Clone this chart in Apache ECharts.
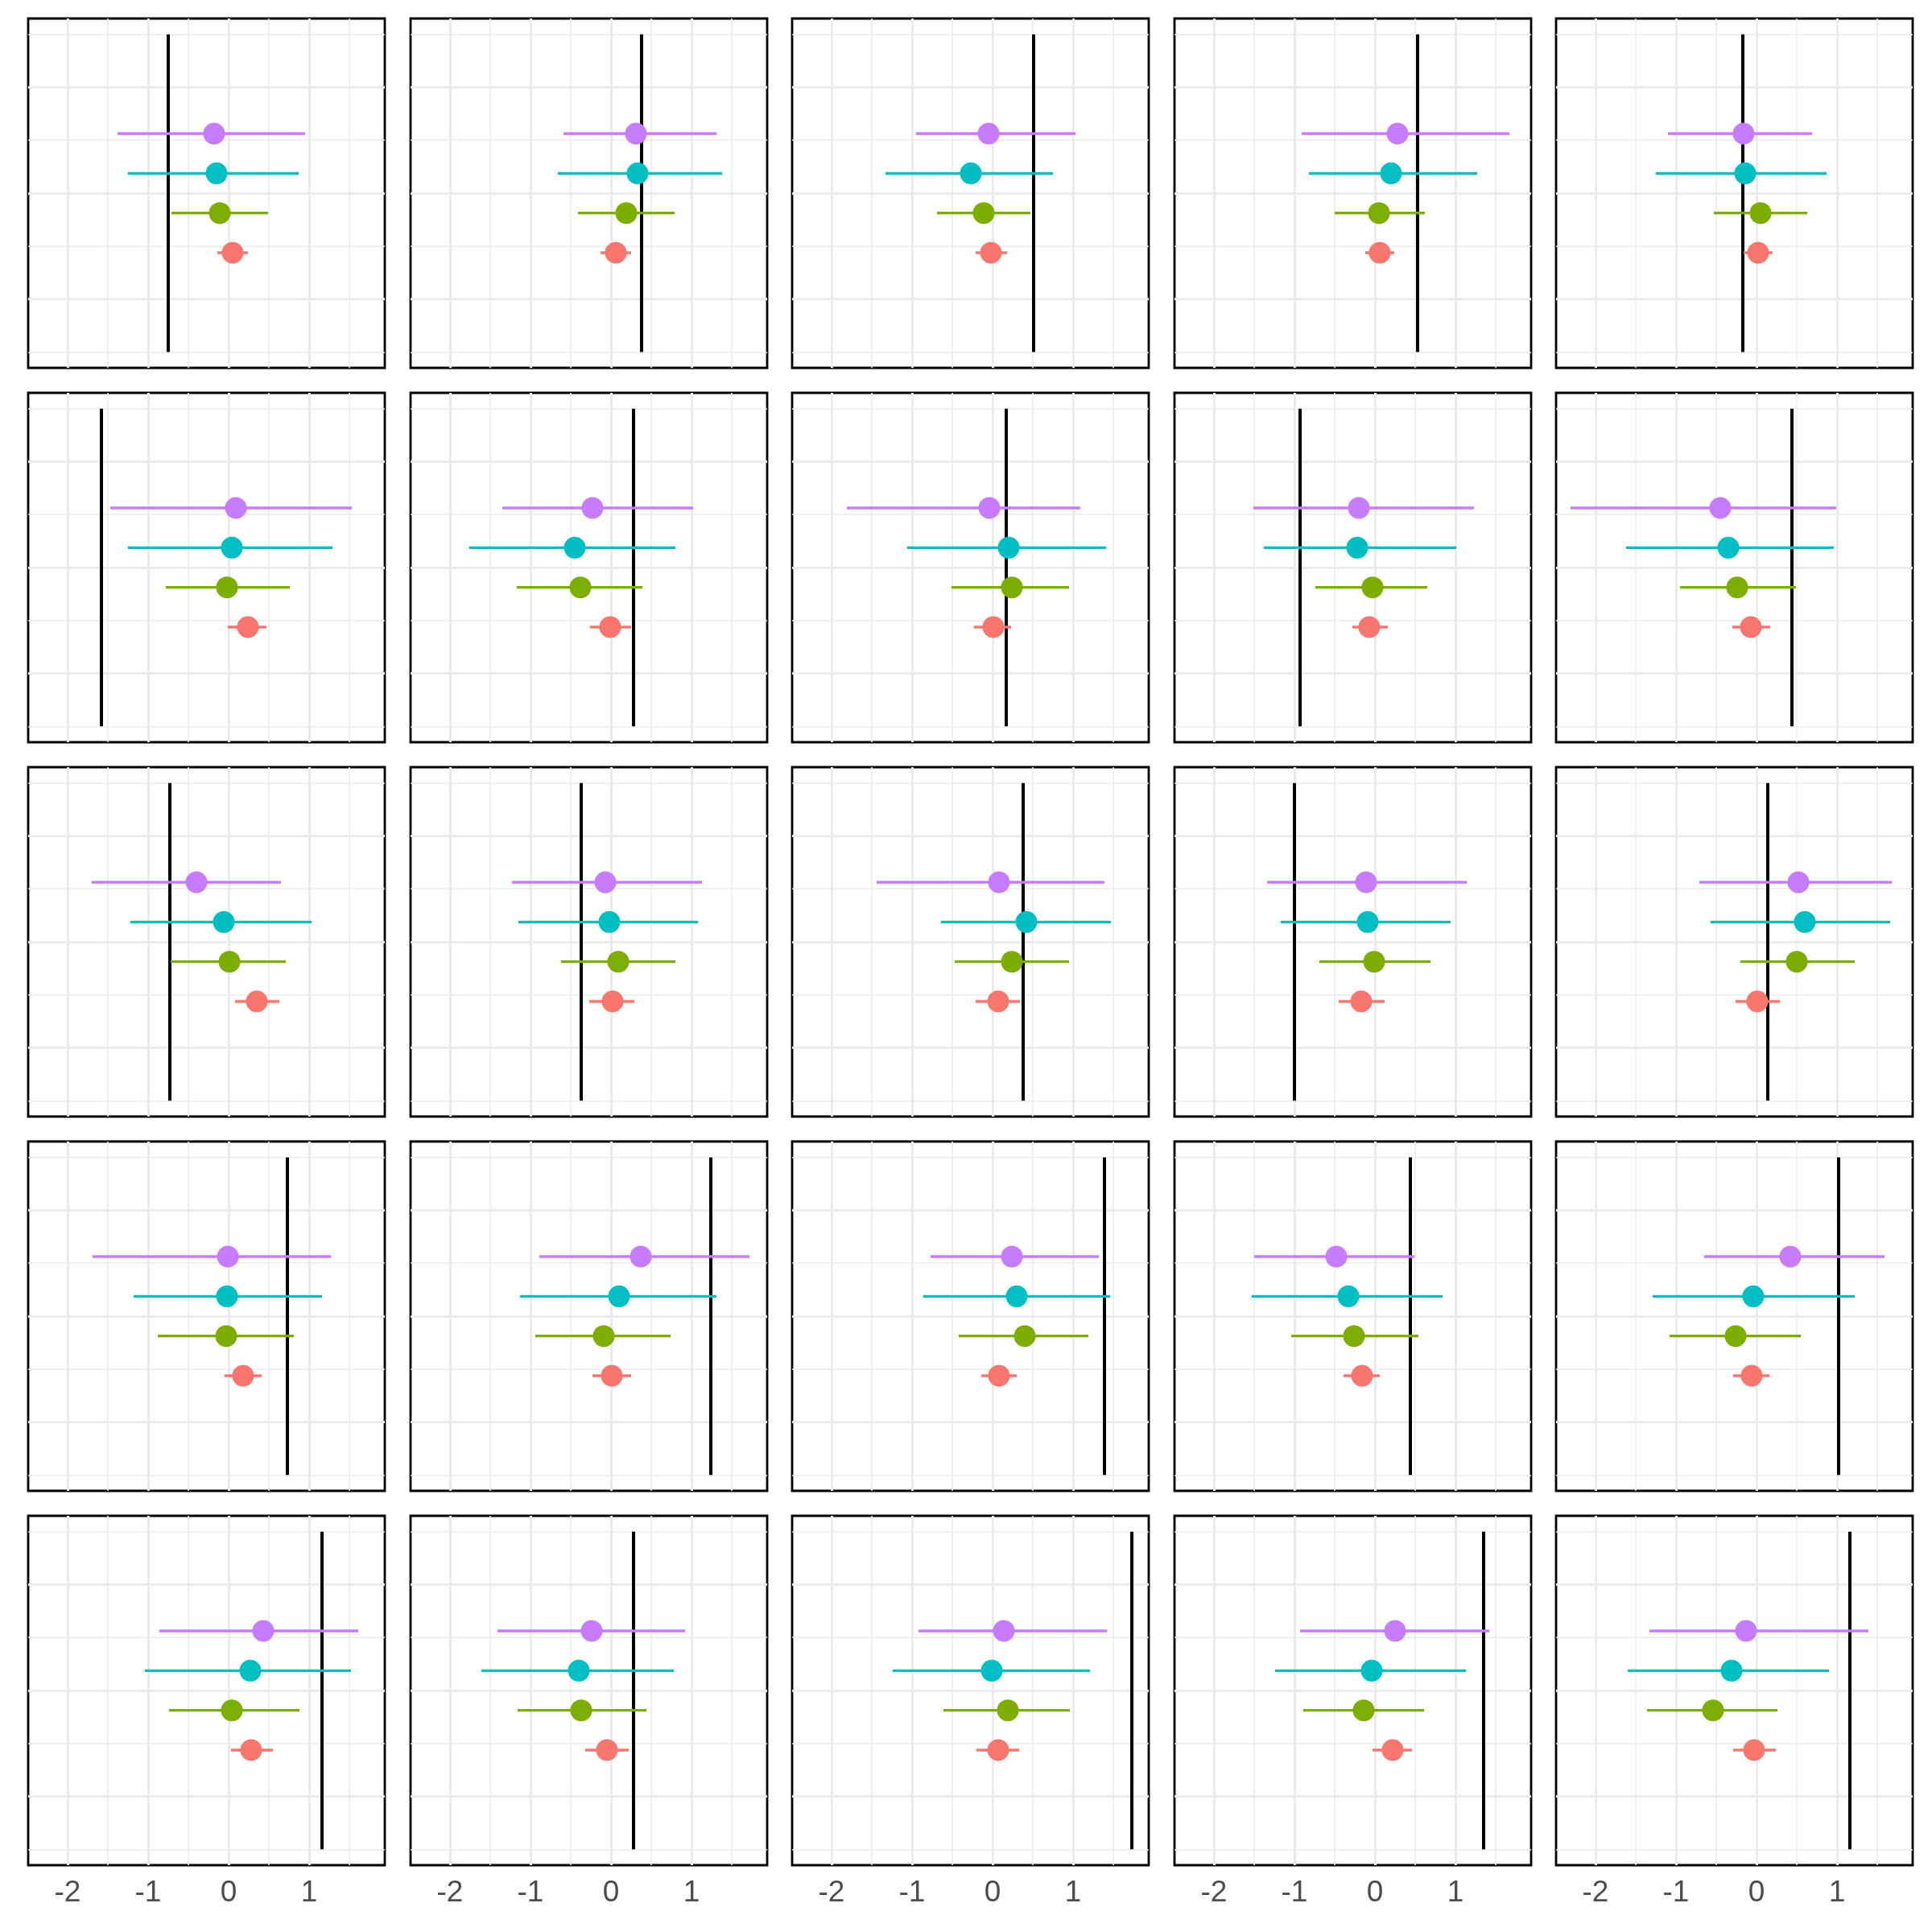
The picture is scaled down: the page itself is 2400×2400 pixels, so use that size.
<!DOCTYPE html>
<html><head><meta charset="utf-8">
<script src="https://cdn.jsdelivr.net/npm/echarts@6/dist/echarts.min.js"></script>
<style>html,body{margin:0;padding:0;background:#fff}#chart{width:2400px;height:2400px}</style>
</head><body><div id="chart"></div>
<script>
// Groups (ggplot default hue order) and their vertical levels on the panel's y scale
const groupNames = ['g1', 'g2', 'g3', 'g4'];
const groupColors = ['#F8766D', '#7CAE00', '#00BFC4', '#C77CFF'];
const groupLevels = [0.875, 1.625, 2.375, 3.125];
// Vertical reference segment spans this y range
const refSpan = [-1, 5];
// x range of every panel
const xRange = [-2.49, 1.94];
const yRange = [-1.3, 5.3];

// One value per panel, panels in row-major order (5 x 5)
const refLine = [-0.75, 0.38, 0.51, 0.53, -0.17,
  -1.58, 0.28, 0.17, -0.93, 0.44,
  -0.73, -0.37, 0.38, -1.00, 0.14,
  0.73, 1.24, 1.39, 0.44, 1.02,
  1.16, 0.28, 1.73, 1.35, 1.16];

const redEst = [0.05, 0.06, -0.02, 0.06, 0.02, 0.24, -0.01, 0.01, -0.07, -0.07, 0.35, 0.02, 0.07, -0.17, 0.01, 0.18, 0.01, 0.08, -0.16, -0.06, 0.28, -0.05, 0.07, 0.22, -0.03];
const redLo = [-0.14, -0.13, -0.21, -0.12, -0.16, -0.01, -0.26, -0.23, -0.28, -0.30, 0.08, -0.27, -0.21, -0.45, -0.26, -0.05, -0.23, -0.14, -0.39, -0.29, 0.03, -0.32, -0.20, -0.03, -0.29];
const redHi = [0.24, 0.25, 0.18, 0.24, 0.20, 0.47, 0.25, 0.23, 0.16, 0.17, 0.63, 0.29, 0.34, 0.12, 0.29, 0.41, 0.25, 0.30, 0.06, 0.16, 0.55, 0.22, 0.33, 0.46, 0.24];

const greenEst = [-0.11, 0.19, -0.11, 0.05, 0.05, -0.02, -0.38, 0.24, -0.03, -0.24, 0.01, 0.09, 0.24, -0.01, 0.50, -0.03, -0.09, 0.40, -0.26, -0.26, 0.04, -0.37, 0.19, -0.14, -0.54];
const greenLo = [-0.71, -0.41, -0.69, -0.50, -0.53, -0.78, -1.17, -0.51, -0.74, -0.95, -0.72, -0.62, -0.47, -0.69, -0.20, -0.88, -0.94, -0.42, -1.04, -1.08, -0.74, -1.16, -0.61, -0.89, -1.36];
const greenHi = [0.49, 0.79, 0.47, 0.62, 0.63, 0.76, 0.39, 0.95, 0.65, 0.49, 0.71, 0.80, 0.95, 0.69, 1.22, 0.81, 0.74, 1.19, 0.54, 0.55, 0.88, 0.44, 0.96, 0.61, 0.26];

const cyanEst = [-0.15, 0.33, -0.27, 0.20, -0.14, 0.04, -0.45, 0.20, -0.22, -0.35, -0.06, -0.02, 0.42, -0.09, 0.60, -0.02, 0.10, 0.30, -0.33, -0.04, 0.27, -0.40, -0.01, -0.04, -0.31];
const cyanLo = [-1.25, -0.66, -1.33, -0.82, -1.25, -1.25, -1.76, -1.06, -1.38, -1.62, -1.22, -1.15, -0.64, -1.17, -0.57, -1.18, -1.13, -0.86, -1.53, -1.29, -1.04, -1.61, -1.24, -1.24, -1.60];
const cyanHi = [0.87, 1.38, 0.75, 1.27, 0.87, 1.29, 0.80, 1.41, 1.01, 0.96, 1.03, 1.08, 1.47, 0.94, 1.66, 1.16, 1.31, 1.46, 0.84, 1.22, 1.52, 0.78, 1.21, 1.13, 0.90];

const purpleEst = [-0.18, 0.31, -0.05, 0.28, -0.16, 0.09, -0.23, -0.04, -0.20, -0.45, -0.40, -0.07, 0.08, -0.11, 0.52, -0.01, 0.37, 0.24, -0.48, 0.42, 0.43, -0.24, 0.14, 0.25, -0.13];
const purpleLo = [-1.38, -0.59, -0.95, -0.91, -1.10, -1.47, -1.35, -1.81, -1.51, -2.31, -1.70, -1.23, -1.44, -1.34, -0.71, -1.69, -0.89, -0.77, -1.50, -0.65, -0.86, -1.41, -0.92, -0.93, -1.33];
const purpleHi = [0.95, 1.31, 1.03, 1.67, 0.69, 1.53, 1.02, 1.09, 1.23, 0.99, 0.65, 1.13, 1.39, 1.14, 1.68, 1.27, 1.72, 1.32, 0.49, 1.59, 1.61, 0.92, 1.42, 1.42, 1.39];

const est = [redEst, greenEst, cyanEst, purpleEst];
const lo = [redLo, greenLo, cyanLo, purpleLo];
const hi = [redHi, greenHi, cyanHi, purpleHi];

const NCOL = 5, NROW = 5;
const grids = [], xAxes = [], yAxes = [], series = [];
const gridColor = '#EBEBEB';

for (let p = 0; p < NCOL * NROW; p++) {
  const r = Math.floor(p / NCOL), c = p % NCOL;
  grids.push({
    left: Math.round(35 + c * 474.6), top: Math.round(23 + r * 465), width: 443, height: 434,
    show: true, borderColor: '#000', borderWidth: 2.8, backgroundColor: '#fff'
  });
  xAxes.push({
    gridIndex: p, type: 'value', min: xRange[0], max: xRange[1], splitNumber: 5,
    axisLine: { show: false }, axisTick: { show: false },
    axisLabel: { show: r === NROW - 1, fontSize: 37, color: '#4D4D4D', margin: 16,
      fontFamily: 'Liberation Sans, Arial, sans-serif', showMinLabel: false, showMaxLabel: false },
    splitLine: { show: true, showMinLine: false, showMaxLine: false, lineStyle: { color: gridColor, width: 3 } },
    minorTick: { show: false, splitNumber: 2 },
    minorSplitLine: { show: true, lineStyle: { color: gridColor, width: 1.6 } }
  });
  yAxes.push({
    gridIndex: p, type: 'value', min: yRange[0], max: yRange[1], splitNumber: 3,
    axisLine: { show: false }, axisTick: { show: false }, axisLabel: { show: false },
    splitLine: { show: true, showMinLine: false, showMaxLine: false, lineStyle: { color: gridColor, width: 3 } },
    minorTick: { show: false, splitNumber: 2 },
    minorSplitLine: { show: true, lineStyle: { color: gridColor, width: 1.6 } }
  });
  // reference segment
  series.push({
    type: 'line', xAxisIndex: p, yAxisIndex: p, z: 2, silent: true, symbol: 'none',
    data: [[refLine[p], refSpan[0]], [refLine[p], refSpan[1]]],
    lineStyle: { color: '#000', width: 4 }
  });
  // error bars
  for (let g = 0; g < groupNames.length; g++) {
    series.push({
      type: 'line', name: groupNames[g], xAxisIndex: p, yAxisIndex: p, z: 3, silent: true, symbol: 'none',
      data: [[lo[g][p], groupLevels[g]], [hi[g][p], groupLevels[g]]],
      lineStyle: { color: groupColors[g], width: 3.4 }
    });
  }
  // points
  series.push({
    type: 'scatter', xAxisIndex: p, yAxisIndex: p, z: 4, silent: true, symbolSize: 27,
    data: groupNames.map((n, g) => ({ value: [est[g][p], groupLevels[g]], itemStyle: { color: groupColors[g], opacity: 1 } }))
  });
}

const chart = echarts.init(document.getElementById('chart'), null, { renderer: 'canvas' });
chart.setOption({
  animation: false,
  backgroundColor: '#fff',
  grid: grids, xAxis: xAxes, yAxis: yAxes, series: series
});
</script></body></html>
